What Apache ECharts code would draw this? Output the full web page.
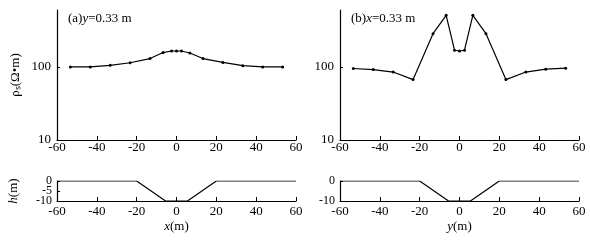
<!DOCTYPE html>
<html><head><meta charset="utf-8">
<script src="https://cdn.jsdelivr.net/npm/echarts@6/dist/echarts.min.js"></script>
<style>html,body{margin:0;padding:0;background:#fff}#c{width:590px;height:244px}</style>
</head><body><div id="c"></div>
<script>
// Data
const posA = [-53.3, -43.3, -33.3, -23.3, -13.3, -6.7, -2.5, 0, 2.5, 6.7, 13.3, 23.3, 33.3, 43.3, 53.3];
const rhoA = [100, 100, 105, 114, 130, 157, 165, 165, 165, 155, 130, 115, 104, 100, 100];
const posB = [-53.3, -43.3, -33.3, -23.3, -13.3, -6.7, -2.5, 0, 2.5, 6.7, 13.3, 23.3, 33.3, 43.3, 53.3];
const rhoB = [95, 92, 85, 67, 285, 507, 169, 165, 169, 507, 285, 67, 85, 93, 96];
const profX = [-60, -20, -5.5, 5.5, 20, 60];
const profH = [0, 0, -10, -10, 0, 0];
const hTicksEnds = [0, -10];
const hTicksMid = [-5];
const titleA = ['(a)', 'y', '=0.33 m'];
const titleB = ['(b)', 'x', '=0.33 m'];

const FONT = 'Liberation Serif';
const pair = (xs, ys) => xs.map((x, i) => [x, ys[i]]);

const chart = echarts.init(document.getElementById('c'), null, {renderer: 'canvas'});
const axisLine = {show: true, onZero: false, lineStyle: {color: '#000', width: 1.2}};
const lbl = (m, fs) => ({color: '#000', fontFamily: FONT, fontSize: fs || 13, margin: m, showMinLabel: true, showMaxLabel: true, hideOverlap: false});
const rich = {
  n: {fontFamily: FONT, fontSize: 13, fontWeight: 'normal', color: '#000'},
  i: {fontFamily: FONT, fontSize: 13, fontWeight: 'normal', fontStyle: 'italic', color: '#000'}
};

function xAx(gi, name, m) {
  return {
    type: 'value', gridIndex: gi, min: -60, max: 60, interval: 20,
    axisLine, axisTick: {show: true, inside: true, length: 4, lineStyle: {color: '#000'}},
    axisLabel: lbl(m), splitLine: {show: false},
    name: name ? '{i|' + name + '}{n|(m)}' : '', nameLocation: 'middle', nameGap: 19,
    nameTextStyle: {rich}
  };
}
const logFmt = v => (Math.abs(v - 10) < 1e-6 || Math.abs(v - 100) < 1e-6) ? String(Math.round(v)) : '';

function hAx(gi, ticks, withName, lineShow) {
  const a = {
    type: 'value', gridIndex: gi, min: -10, max: 0, position: 'left', offset: 0,
    axisLine: lineShow ? axisLine : {show: false, onZero: false},
    axisTick: {show: true, inside: true, length: 3, lineStyle: {color: '#000'}, customValues: ticks},
    axisLabel: Object.assign(lbl(5, 12), {customValues: ticks}),
    splitLine: {show: false}
  };
  if (withName) {
    a.name = '{i|h}{n|(m)}'; a.nameLocation = 'middle'; a.nameGap = 37; a.nameTextStyle = {rich};
  }
  return a;
}

const option = {
  animation: false,
  backgroundColor: '#fff',
  title: [
    {text: '{n|' + titleA[0] + '}{i|' + titleA[1] + '}{n|' + titleA[2] + '}', left: 68, top: 12, padding: 0, textStyle: {fontWeight: 'normal', rich}},
    {text: '{n|' + titleB[0] + '}{i|' + titleB[1] + '}{n|' + titleB[2] + '}', left: 351, top: 12, padding: 0, textStyle: {fontWeight: 'normal', rich}}
  ],
  grid: [
    {left: 57, width: 239, top: 10, height: 130},
    {left: 57, width: 239, top: 181, height: 20},
    {left: 340, width: 239, top: 10, height: 130},
    {left: 340, width: 239, top: 181, height: 20}
  ],
  xAxis: [xAx(0, '', 1), xAx(1, 'x', 4), xAx(2, '', 1), xAx(3, 'y', 4)],
  yAxis: [
    {type: 'log', logBase: 10, gridIndex: 0, min: 10, max: 600, axisLine,
     axisTick: {show: true, inside: true, length: 3, lineStyle: {color: '#000'}},
     axisLabel: Object.assign(lbl(6), {showMaxLabel: false, formatter: logFmt}),
     splitLine: {show: false},
     name: 'ρₛ(Ω•m)', nameLocation: 'middle', nameGap: 35,
     nameTextStyle: {fontFamily: FONT, fontSize: 13, color: '#000'}},
    hAx(1, hTicksEnds, true, true),
    {type: 'log', logBase: 10, gridIndex: 2, min: 10, max: 600, axisLine,
     axisTick: {show: true, inside: true, length: 3, lineStyle: {color: '#000'}},
     axisLabel: Object.assign(lbl(6), {showMaxLabel: false, formatter: logFmt}),
     splitLine: {show: false}},
    hAx(3, hTicksEnds, false, true),
    hAx(1, hTicksMid, false, false)
  ],
  series: [
    {type: 'line', xAxisIndex: 0, yAxisIndex: 0, data: pair(posA, rhoA), symbol: 'circle', symbolSize: 3,
     lineStyle: {color: '#000', width: 1.2}, itemStyle: {color: '#000'}},
    {type: 'line', xAxisIndex: 1, yAxisIndex: 1, data: pair(profX, profH), symbol: 'none',
     lineStyle: {color: '#000', width: 1.2}},
    {type: 'line', xAxisIndex: 2, yAxisIndex: 2, data: pair(posB, rhoB), symbol: 'circle', symbolSize: 3,
     lineStyle: {color: '#000', width: 1.2}, itemStyle: {color: '#000'}},
    {type: 'line', xAxisIndex: 3, yAxisIndex: 3, data: pair(profX, profH), symbol: 'none',
     lineStyle: {color: '#000', width: 1.2}}
  ]
};
chart.setOption(option);
</script></body></html>
